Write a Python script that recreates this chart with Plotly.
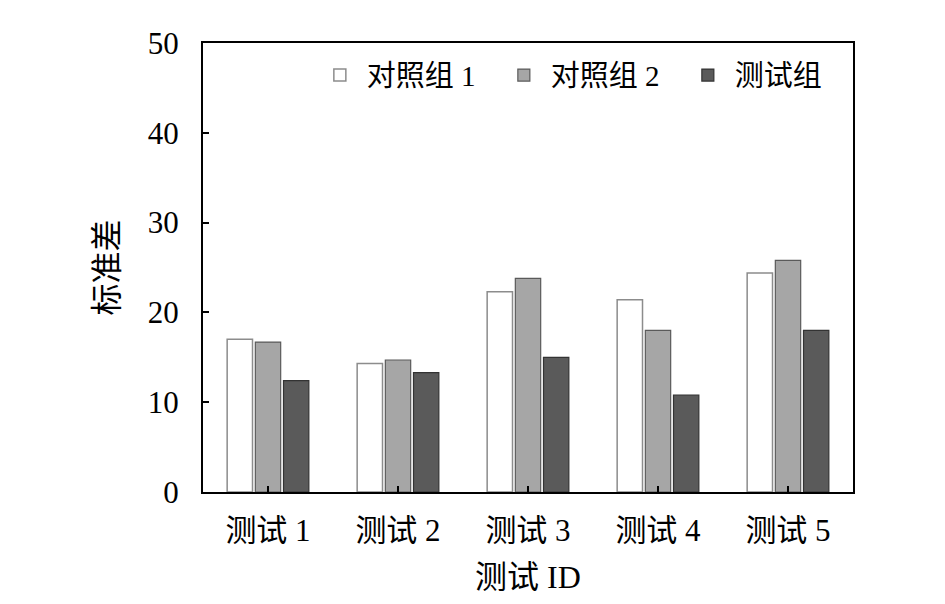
import plotly.graph_objects as go

# data
categories = ['测试 1', '测试 2', '测试 3', '测试 4', '测试 5']
control_1 = [17.0, 14.3, 22.3, 21.4, 24.4]
control_2 = [16.7, 14.7, 23.8, 18.0, 25.8]
test_group = [12.4, 13.3, 15.0, 10.8, 18.0]
y_ticks = [0, 10, 20, 30, 40, 50]

font_family = 'Liberation Serif, Times New Roman, Noto Sans CJK SC, serif'

fig = go.Figure()
fig.add_trace(go.Bar(x=categories, y=control_1, name='对照组 1',
                     marker=dict(color='white', line=dict(color='#8c8c8c', width=1.5))))
fig.add_trace(go.Bar(x=categories, y=control_2, name='对照组 2',
                     marker=dict(color='#a6a6a6', line=dict(color='#5a5a5a', width=1.2))))
fig.add_trace(go.Bar(x=categories, y=test_group, name='测试组',
                     marker=dict(color='#5a5a5a', line=dict(color='#333333', width=1.2))))

fig.update_layout(
    width=945, height=604,
    margin=dict(l=195, r=100, t=35, b=120),
    paper_bgcolor='white', plot_bgcolor='white',
    font=dict(family=font_family, size=29, color='black'),
    barmode='group', bargap=0.35, bargroupgap=0.1,
    legend=dict(orientation='h', x=0.169, xanchor='left', y=0.985, yanchor='top',
                font=dict(size=29), bgcolor='rgba(0,0,0,0)', traceorder='normal',
                itemwidth=44, entrywidth=125),
    xaxis=dict(title=dict(text='测试 ID', standoff=18, font=dict(size=32)),
               showline=True, mirror=True, tickfont=dict(size=31),
               linecolor='black', linewidth=2, ticks='inside', ticklen=6,
               tickwidth=2, tickcolor='black', ticklabelstandoff=10),
    yaxis=dict(title=dict(text='标准差', standoff=20, font=dict(size=32)),
               range=[0, 50], tickvals=y_ticks, tickfont=dict(size=31),
               showline=True, mirror=True, linecolor='black', linewidth=2,
               ticks='inside', ticklen=6, tickwidth=2, tickcolor='black',
               ticklabelstandoff=16, showgrid=False, zeroline=False),
)

fig.write_html('out.html')
